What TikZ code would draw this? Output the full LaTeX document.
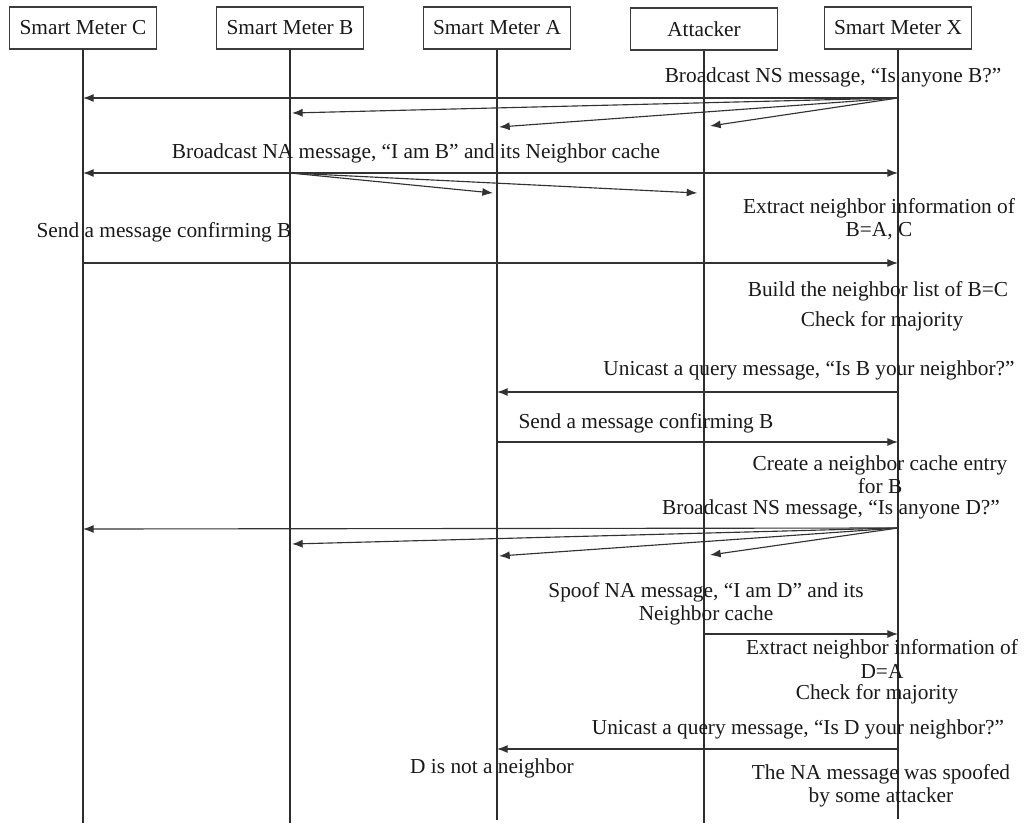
\documentclass[tikz,border=0pt]{standalone}
\usepackage{fontspec}
\setmainfont{Liberation Serif}
\usetikzlibrary{arrows}
\usetikzlibrary{arrows.meta}

\begin{document}
\begin{tikzpicture}[x=0.75pt,y=0.75pt,yscale=-1,xscale=1,
  meter/.style={draw={rgb, 255:red, 60; green, 60; blue, 60 }, line width=0.8pt, minimum width=110pt, minimum height=31.5pt, inner sep=0pt, text={rgb, 255:red, 25; green, 25; blue, 25 }, font=\fontsize{16}{19}\selectfont},
  life/.style={color={rgb, 255:red, 45; green, 45; blue, 45 }, line width=1.1pt},
  msg/.style={color={rgb, 255:red, 50; green, 50; blue, 50 }, line width=0.85pt, -{Latex[length=8pt,width=6pt]}},
  lbl/.style={inner sep=0pt, align=center, text={rgb, 255:red, 25; green, 25; blue, 25 }, font=\fontsize{16}{17.5}\selectfont}]
\useasboundingbox (0,0) rectangle (1027,824);

%Shape: Rectangle
\node [meter] (smc) at (83,28) {Smart Meter C};
\node [meter] (smb) at (290,28) {Smart Meter B};
\node [meter] (sma) at (497,28) {Smart Meter A};
\node [meter] (att) at (704,29) {Attacker};
\node [meter] (smx) at (898,28) {Smart Meter X};

%Straight Lines
\draw [life] (smc.south) -- (smc.south |- 0,823);
\draw [life] (smb.south) -- (smb.south |- 0,823);
\draw [life] (sma.south) -- (sma.south |- 0,820);
\draw [life] (att.south) -- (att.south |- 0,823);
\draw [life] (smx.south) -- (smx.south |- 0,819);

%Broadcast NS for B
\node [lbl] (nsb) at (833,77) {Broadcast NS message, “Is anyone B?”};
\draw [msg] (smx.south |- 0,98) -- (smc.south |- 0,98);
\draw [msg] (smx.south |- 0,98) -- ([xshift=1.5pt]smb.south |- 0,113);
\draw [msg] (smx.south |- 0,98) -- ([xshift=1.5pt]sma.south |- 0,127);
\draw [msg] (smx.south |- 0,98) -- ([xshift=4.5pt]att.south |- 0,126);

%Broadcast NA from B
\node [lbl] (nab) at (416,153) {Broadcast NA message, “I am B” and its Neighbor cache};
\draw [msg] (smb.south |- 0,173) -- (smc.south |- 0,173);
\draw [msg] (smb.south |- 0,173) -- (smx.south |- 0,173);
\draw [msg] (smb.south |- 0,173) -- ([xshift=-3pt]sma.south |- 0,193);
\draw [msg] (smb.south |- 0,173) -- ([xshift=-5pt]att.south |- 0,193);

\node [lbl] (exb) at (879,219) {Extract neighbor information of\\B=A, C};

%Confirmation from C
\node [lbl] (cfc) at (164,232) {Send a message confirming B};
\draw [msg] (smc.south |- 0,263) -- (smx.south |- 0,263);

\node [lbl] (blb) at (878,291) {Build the neighbor list of B=C};
\node [lbl] (cmb) at (882,321) {Check for majority};

%Query to A
\node [lbl] (qub) at (809,370) {Unicast a query message, “Is B your neighbor?”};
\draw [msg] (smx.south |- 0,392) -- (sma.south |- 0,392);

\node [lbl] (cfa) at (646,423) {Send a message confirming B};
\draw [msg] (sma.south |- 0,442) -- (smx.south |- 0,442);

\node [lbl] (ceb) at (880,475) {Create a neighbor cache entry\\for B};

%Broadcast NS for D
\node [lbl] (nsd) at (831,509) {Broadcast NS message, “Is anyone D?”};
\draw [msg] (smx.south |- 0,528) -- (smc.south |- 0,529);
\draw [msg] (smx.south |- 0,528) -- ([xshift=1.5pt]smb.south |- 0,544);
\draw [msg] (smx.south |- 0,528) -- ([xshift=1.5pt]sma.south |- 0,556);
\draw [msg] (smx.south |- 0,528) -- ([xshift=4.5pt]att.south |- 0,555);

%Spoofed NA from attacker
\node [lbl] (spd) at (706,604) {Spoof NA message, “I am D” and its\\Neighbor cache};
\draw [msg] (att.south |- 0,634) -- (smx.south |- 0,634);

\node [lbl] (exd) at (882,659) {Extract neighbor information of\\D=A};
\node [lbl] (cmd) at (877,694) {Check for majority};

%Query for D
\node [lbl] (qud) at (798,729) {Unicast a query message, “Is D your neighbor?”};
\draw [msg] (smx.south |- 0,749) -- (sma.south |- 0,749);

\node [lbl] (nnd) at (492,768) {D is not a neighbor};
\node [lbl] (spf) at (881,786) {The NA message was spoofed\\by some attacker};

\end{tikzpicture}
\end{document}
